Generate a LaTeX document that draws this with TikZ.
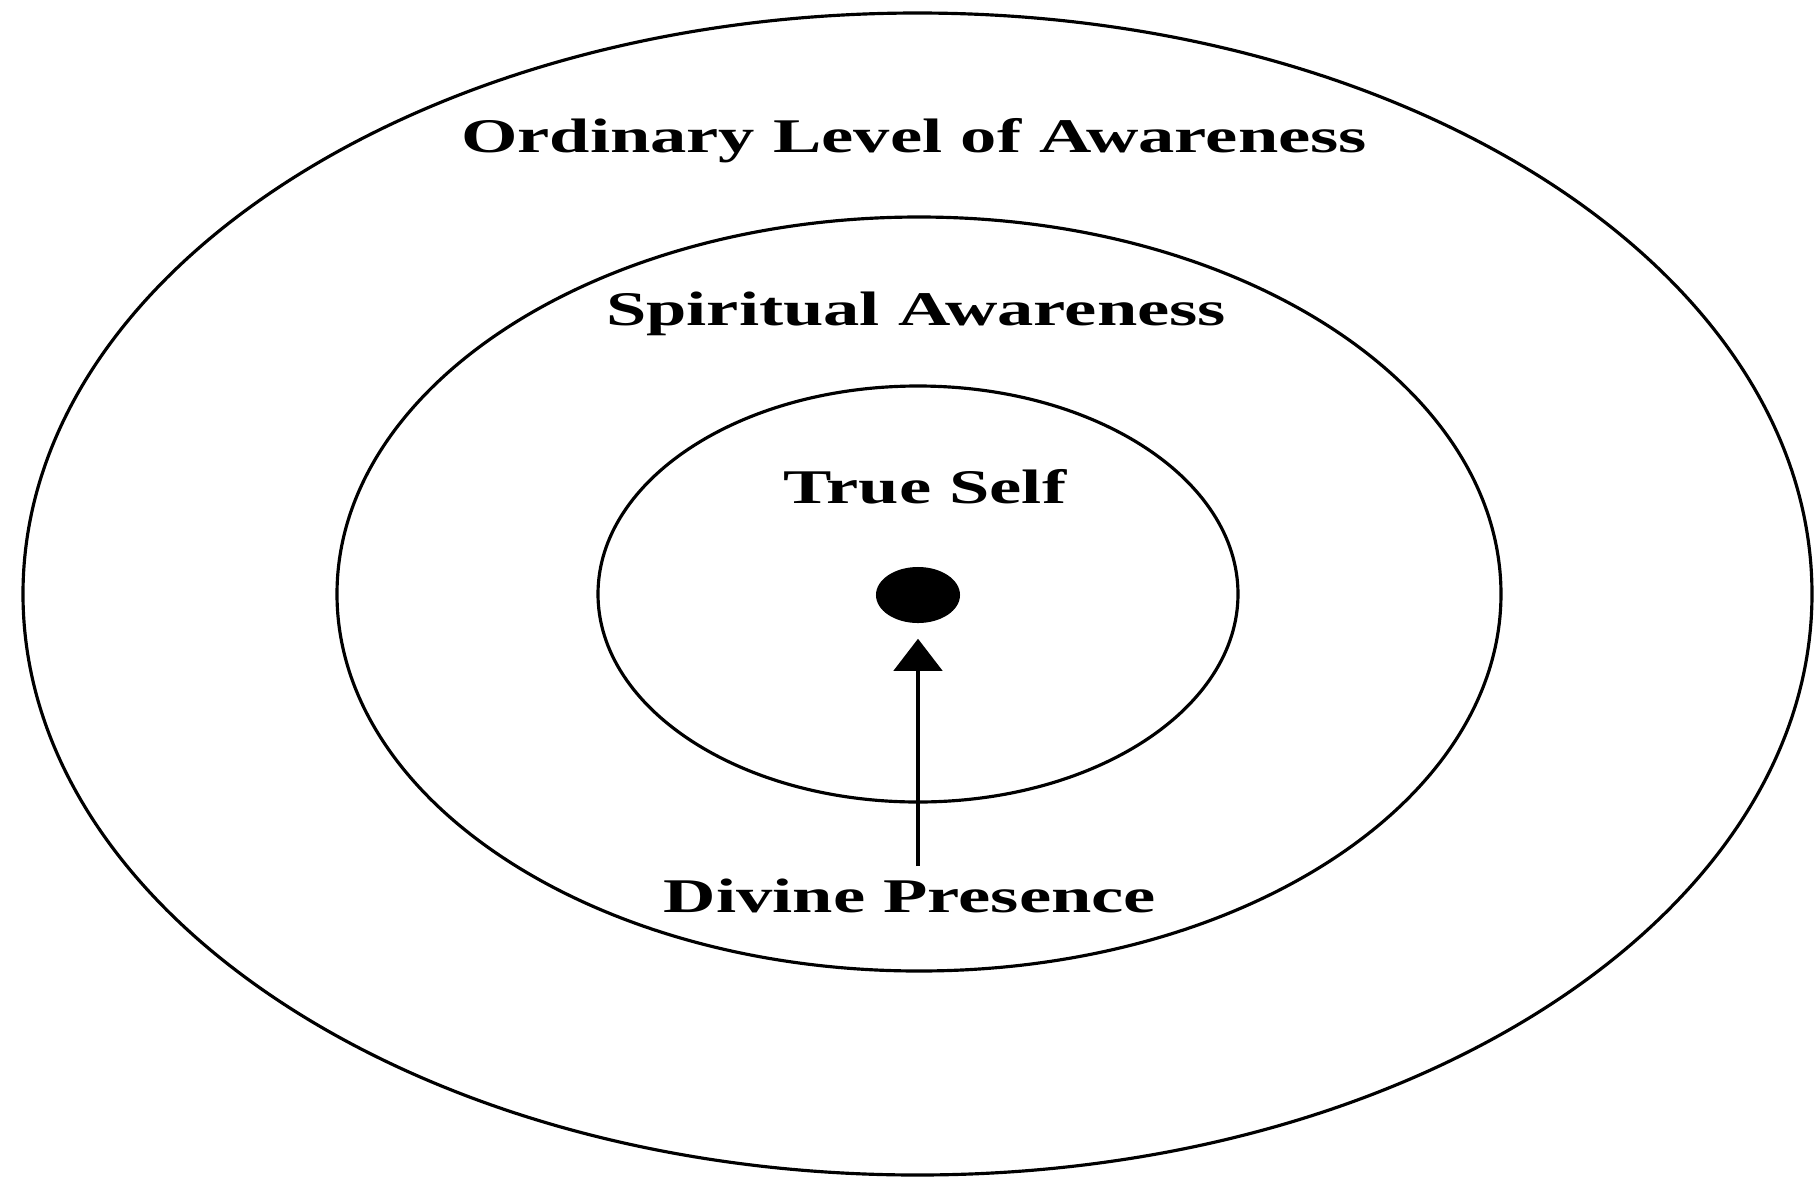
\documentclass[tikz,border=0pt]{standalone}
\usepackage{fontspec}
\newfontfamily\lblfont{Liberation Serif}[FakeStretch=1.5]
\usepackage{tikz}
\usetikzlibrary{arrows.meta,shapes.geometric}

\begin{document}
\begin{tikzpicture}[x=0.01cm,y=-0.01cm,>={Triangle[length=0.32cm,width=0.48cm]}]
  \tikzset{
    ring/.style={line width=0.9pt},
    lbl/.style={font=\lblfont\bfseries\fontsize{13.75}{16}\selectfont,anchor=base},
  }
  \useasboundingbox (0,0) rectangle (1814,1178);
  \foreach \cx/\rx/\ry in {917.5/894.5/581, 919/582/377, 918/320/208}{
    \draw[ring] (\cx,594) ellipse [x radius=\rx, y radius=\ry];
  }
  \node[lbl] (ordinary) at (914,152) {Ordinary Level of Awareness};
  \node[lbl] (spiritual) at (916,325) {Spiritual Awareness};
  \node[lbl] (trueself) at (925,503) {True Self};
  \node[lbl] (divine) at (910,912) {Divine Presence};
  \node[ellipse,fill=black,inner sep=0pt,minimum width=0.84cm,minimum height=0.56cm] (dot) at (918,595) {};
  \draw[->,line width=1.3pt,shorten >=0.15cm] (divine.north -| dot) -- (dot.south);
\end{tikzpicture}
\end{document}
